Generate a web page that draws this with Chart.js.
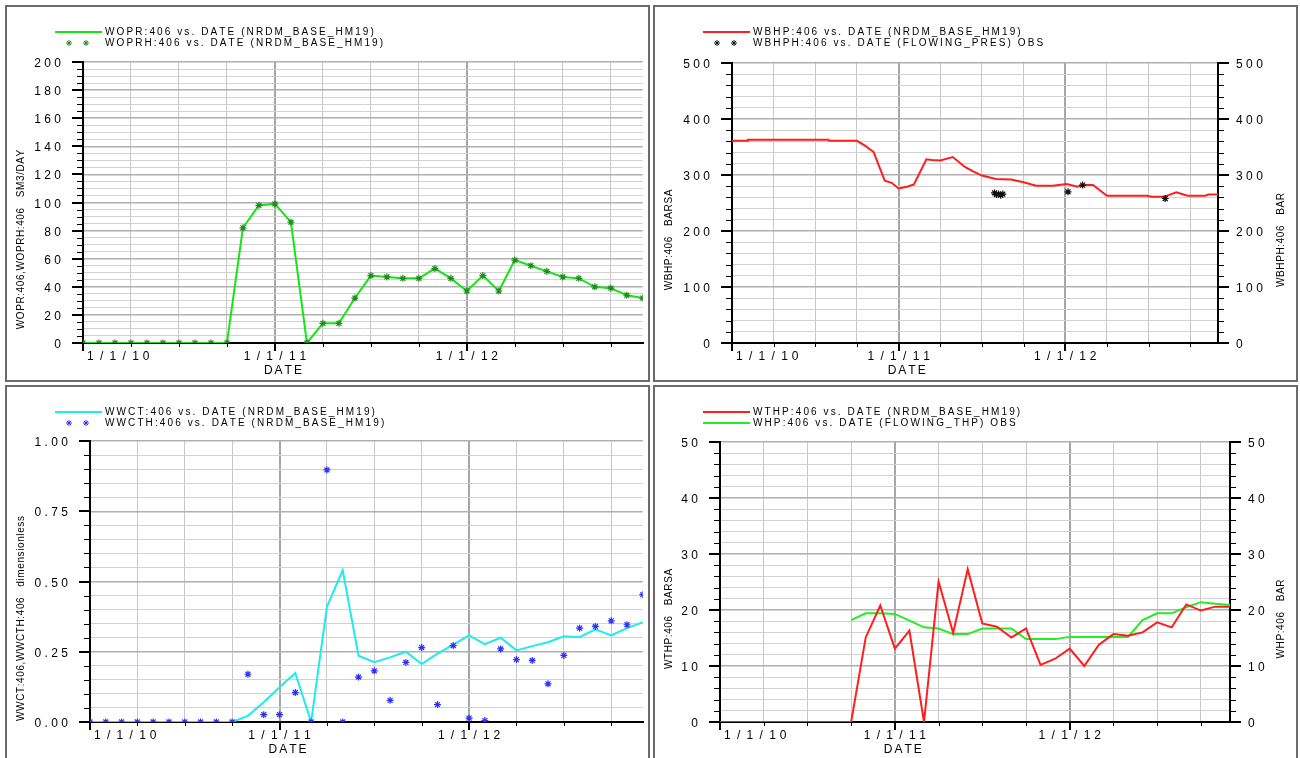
<!DOCTYPE html>
<html>
<head>
<meta charset="utf-8">
<title>Well 406 history match</title>
<script src="https://cdn.jsdelivr.net/npm/chart.js@4/dist/chart.umd.min.js"></script>
<style>
  html, body { margin: 0; padding: 0; background: #fff; }
  body { width: 1300px; height: 758px; overflow: hidden; position: relative; }
  .panel { position: absolute; width: 641px; height: 373px; border: 2px solid #6a6a6a; background: #fff; }
  .panel canvas { display: block; }
</style>
</head>
<body>
<div class="panel" style="left:5px;top:5px"><canvas id="wopr" width="641" height="373"></canvas></div>
<div class="panel" style="left:653px;top:5px"><canvas id="wbhp" width="641" height="373"></canvas></div>
<div class="panel" style="left:5px;top:385px"><canvas id="wwct" width="641" height="373"></canvas></div>
<div class="panel" style="left:653px;top:385px"><canvas id="wthp" width="641" height="373"></canvas></div>

<script>
// time axis: months counted from 1/1/10
const months = [0, 1, 2, 3, 4, 5, 6, 7, 8, 9, 10, 11, 12, 13, 14, 15, 16, 17,
  18, 19, 20, 21, 22, 23, 24, 25, 26, 27, 28, 29, 30, 31, 32, 33, 34, 35];
const xTickMonths = [0, 12, 24];
const xTickLabels = ['1/1/10', '1/1/11', '1/1/12'];

// oil rate, SM3/DAY
const woprValues = [0, 0, 0, 0, 0, 0, 0, 0, 0, 0, 82, 98, 99, 86, 0, 14, 14, 32,
  48, 47, 46, 46, 53, 46, 37, 48, 37, 59, 55, 51, 47, 46, 40, 39, 34, 32];
const woprhValues = [0, 0, 0, 0, 0, 0, 0, 0, 0, 0, 82, 98, 99, 86, 0, 14, 14, 32,
  48, 47, 46, 46, 53, 46, 37, 48, 37, 59, 55, 51, 47, 46, 40, 39, 34, 32];

// bottom hole pressure, BARSA
const wbhpMonths = [0, 1.1, 1.15, 6.95, 7, 9, 9.6, 10.2, 11, 11.5, 12, 12.6, 13.1,
  14, 14.4, 15, 15.9, 16.8, 17.4, 18, 19, 20.1, 21, 21.9, 23.1, 24.1, 24.9, 25.2,
  26, 27, 29.9, 30.2, 31.1, 32, 32.8, 34.1, 34.3, 35];
const wbhpValues = [361, 361, 363, 363, 361, 361, 352, 341, 290, 286, 276, 279, 283,
  328, 327, 326, 332, 314, 306, 299, 293, 292, 287, 281, 281, 284, 279, 282,
  282, 263, 263, 261, 261, 269, 263, 263, 265, 265];
const wbhphMonths = [18.9, 19.05, 19.2, 19.35, 19.5, 24.2, 25.25, 31.2];
const wbhphValues = [268, 265, 266, 264, 266, 270, 282, 258];

// water cut
const wwctValues = [0, 0, 0, 0, 0, 0, 0, 0, 0, 0, 0.022, 0.07, 0.124, 0.174, 0,
  0.41, 0.54, 0.236, 0.213, 0.23, 0.25, 0.206, 0.243, 0.275, 0.308, 0.277, 0.3,
  0.255, 0.27, 0.284, 0.305, 0.302, 0.33, 0.308, 0.334, 0.355];
const wwcthValues = [0, 0, 0, 0, 0, 0, 0, 0, 0, 0, 0.17, 0.026, 0.026, 0.105, 0,
  0.897, 0, 0.16, 0.182, 0.077, 0.212, 0.265, 0.062, 0.272, 0.014, 0.005, 0.26,
  0.222, 0.219, 0.136, 0.237, 0.334, 0.34, 0.36, 0.346, 0.453];

// tubing head pressure
const wthpValues = [0, 0, 0, 0, 0, 0, 0, 0, 0, 0, 15.1, 20.8, 13.1, 16.3, 0, 25.1,
  15.9, 27.3, 17.6, 17.0, 15.1, 16.7, 10.2, 11.3, 13.1, 10.0, 13.8, 15.7, 15.4,
  16.0, 17.8, 16.9, 21.0, 19.9, 20.6, 20.6];
const whpMonths = [9, 10, 11, 12, 13, 14, 15, 16, 17, 18, 19, 20, 21, 22, 23, 24,
  25, 26, 27, 28, 29, 30, 31, 32, 33, 34, 35];
const whpValues = [18.2, 19.4, 19.4, 19.3, 18.1, 16.9, 16.7, 15.7, 15.7, 16.7, 16.7,
  16.7, 14.8, 14.8, 14.8, 15.2, 15.2, 15.2, 15.2, 15.2, 18.2, 19.4, 19.4, 20.5,
  21.4, 21.1, 20.9];

const SANS = '"Liberation Sans", Arial, sans-serif';

function pts(xs, ys) {
  return xs.map((x, i) => ({ x: x, y: ys[i] }));
}

function near(v, step) {
  return Math.abs(v / step - Math.round(v / step)) < 1e-6;
}

// letter-spaced text, drawn glyph by glyph; slashes get extra room
function advance(ctx, ch, sp, slash) {
  return ctx.measureText(ch).width + sp + (ch === '/' ? 2 * slash : 0);
}
function textWidth(ctx, s, sp, slash) {
  let w = 0;
  for (const ch of s) w += advance(ctx, ch, sp, slash || 0);
  return w - sp;
}
function drawSpaced(ctx, s, x, y, align, sp, slash) {
  slash = slash || 0;
  const w = textWidth(ctx, s, sp, slash);
  let cx = align === 'center' ? x - w / 2 : align === 'right' ? x - w : x;
  ctx.textAlign = 'left';
  for (const ch of s) {
    ctx.fillText(ch, cx + (ch === '/' ? slash : 0), y);
    cx += advance(ctx, ch, sp, slash);
  }
}

function drawStar(ctx, x, y, r) {
  ctx.beginPath();
  for (let k = 0; k < 4; k++) {
    const a = k * Math.PI / 4;
    ctx.moveTo(x - r * Math.cos(a), y - r * Math.sin(a));
    ctx.lineTo(x + r * Math.cos(a), y + r * Math.sin(a));
  }
  ctx.stroke();
}

// axis labels, tick marks, titles and legend of one plot panel
const panelText = {
  id: 'panelText',
  afterDraw(chart, args, o) {
    const { ctx, chartArea: a, scales } = chart;
    const xs = scales.x;
    ctx.save();
    ctx.fillStyle = '#000';
    ctx.strokeStyle = '#000';
    ctx.textBaseline = 'middle';
    ctx.font = '12px ' + SANS;

    const axes = [[scales.y, a.left, -1]];
    if (scales.y1) axes.push([scales.y1, a.right, 1]);
    axes.forEach(([sc, ax, dir]) => {
      sc.ticks.forEach(t => {
        const py = Math.round(sc.getPixelForValue(t.value));
        const major = near(t.value, o.yMajor);
        const off = major ? 0 : 0.5;
        ctx.lineWidth = major ? 2 : 1;
        ctx.beginPath();
        ctx.moveTo(ax, py + off);
        ctx.lineTo(ax + dir * (major ? 11 : 6), py + off);
        ctx.stroke();
        if (major) {
          const s = t.value.toFixed(o.yDecimals);
          if (dir < 0) drawSpaced(ctx, s, ax - 22, py + 2, 'right', 3.4);
          else drawSpaced(ctx, s, ax + 18, py + 2, 'left', 3.4);
        }
      });
    });

    xs.ticks.forEach(t => {
      const year = near(t.value, 12);
      const px = Math.round(xs.getPixelForValue(t.value)) + (year ? 0 : 0.5);
      ctx.lineWidth = year ? 2 : 1;
      ctx.beginPath();
      ctx.moveTo(px, a.bottom);
      ctx.lineTo(px, a.bottom + (year ? 8 : 4));
      ctx.stroke();
    });

    xTickMonths.forEach((m, i) => {
      const px = xs.getPixelForValue(m);
      const w = textWidth(ctx, xTickLabels[i], 3.8, 2.5);
      let left = px - w / 2;
      if (left < a.left) left = a.left + 4;
      drawSpaced(ctx, xTickLabels[i], left, a.bottom + 14, 'left', 3.8, 2.5);
    });
    drawSpaced(ctx, 'DATE', xs.getPixelForValue(12) + 8, a.bottom + 28, 'center', 2);

    // rotated axis titles
    ctx.font = '10px ' + SANS;
    const cy = (a.top + a.bottom) / 2 + 37;
    const titles = [[o.leftTitle, 14]];
    if (o.rightTitle) titles.push([o.rightTitle, chart.width - 15]);
    titles.forEach(([s, tx]) => {
      ctx.save();
      ctx.translate(tx, cy);
      ctx.rotate(-Math.PI / 2);
      drawSpaced(ctx, s, 0, 0, 'center', 0.6);
      ctx.restore();
    });

    // legend
    ctx.font = '10px ' + SANS;
    chart.data.datasets.forEach((ds, i) => {
      const ly = 25 + 11 * i;
      if (ds.showLine === false) {
        ctx.strokeStyle = ds.pointBorderColor;
        ctx.lineWidth = 1;
        drawStar(ctx, 62, ly, 3);
        drawStar(ctx, 79, ly, 3);
      } else {
        ctx.strokeStyle = ds.borderColor;
        ctx.lineWidth = 2;
        ctx.beginPath();
        ctx.moveTo(48, ly);
        ctx.lineTo(95, ly);
        ctx.stroke();
      }
      ctx.fillStyle = '#000';
      drawSpaced(ctx, ds.label, 98, ly, 'left', 2.1);
    });
    ctx.restore();
  }
};

function lineSet(label, data, color) {
  return {
    label: label, data: data, borderColor: color, borderWidth: 2,
    pointRadius: 0, tension: 0, fill: false, order: 1
  };
}
function starSet(label, data, color) {
  return {
    label: label, data: data, showLine: false, pointStyle: 'star',
    pointRadius: 3.5, pointBorderColor: color, pointBackgroundColor: color,
    pointBorderWidth: 1.2, order: 0
  };
}

function buildChart(id, o) {
  const axisBorder = { display: true, color: '#000', width: 2 };
  const scales = {
    x: {
      type: 'linear', min: 0, max: 35,
      ticks: { stepSize: 3, display: false, autoSkip: false, includeBounds: false },
      grid: {
        drawTicks: false,
        color: c => near(c.tick.value, 12) ? '#a6a6a6' : '#c8c8c8',
        lineWidth: c => near(c.tick.value, 12) ? 2 : 1
      },
      border: axisBorder
    },
    y: {
      type: 'linear', min: 0, max: o.yMax,
      ticks: { stepSize: o.yMinor, display: false, autoSkip: false },
      grid: {
        drawTicks: false,
        color: c => near(c.tick.value, o.yMajor) ? '#b0b0b0' : '#d2d2d2',
        lineWidth: c => near(c.tick.value, o.yMajor) ? 1.5 : 1
      },
      border: axisBorder
    }
  };
  if (o.rightTitle) {
    scales.y1 = {
      type: 'linear', position: 'right', min: 0, max: o.yMax,
      ticks: { stepSize: o.yMinor, display: false, autoSkip: false },
      grid: { drawTicks: false, color: 'rgba(0,0,0,0)' },
      border: axisBorder
    };
  }
  return new Chart(document.getElementById(id), {
    type: 'line',
    data: { datasets: o.datasets },
    plugins: [panelText],
    options: {
      responsive: false,
      animation: false,
      devicePixelRatio: 1,
      layout: { padding: o.padding },
      scales: scales,
      plugins: {
        legend: { display: false },
        title: { display: false },
        tooltip: { enabled: false },
        panelText: o
      }
    }
  });
}

buildChart('wopr', {
  yMax: 200, yMinor: 5, yMajor: 20, yDecimals: 0,
  leftTitle: 'WOPR:406,WOPRH:406   SM3/DAY',
  padding: { left: 76, right: 2, top: 55, bottom: 37 },
  datasets: [
    lineSet('WOPR:406 vs. DATE (NRDM_BASE_HM19)', pts(months, woprValues), '#14e614'),
    starSet('WOPRH:406 vs. DATE (NRDM_BASE_HM19)', pts(months, woprhValues), '#1f8a1f')
  ]
});

buildChart('wbhp', {
  yMax: 500, yMinor: 20, yMajor: 100, yDecimals: 0,
  leftTitle: 'WBHP:406   BARSA',
  rightTitle: 'WBHPH:406   BAR',
  padding: { left: 77, right: 78, top: 56, bottom: 37 },
  datasets: [
    lineSet('WBHP:406 vs. DATE (NRDM_BASE_HM19)', pts(wbhpMonths, wbhpValues), '#ff1e1e'),
    starSet('WBHPH:406 vs. DATE (FLOWING_PRES) OBS', pts(wbhphMonths, wbhphValues), '#111111')
  ]
});

buildChart('wwct', {
  yMax: 1, yMinor: 0.05, yMajor: 0.25, yDecimals: 2,
  leftTitle: 'WWCT:406,WWCTH:406   dimensionless',
  padding: { left: 83, right: 3, top: 54, bottom: 38 },
  datasets: [
    lineSet('WWCT:406 vs. DATE (NRDM_BASE_HM19)', pts(months, wwctValues), '#1eecec'),
    starSet('WWCTH:406 vs. DATE (NRDM_BASE_HM19)', pts(months, wwcthValues), '#2f2fff')
  ]
});

buildChart('wthp', {
  yMax: 50, yMinor: 2, yMajor: 10, yDecimals: 0,
  leftTitle: 'WTHP:406   BARSA',
  rightTitle: 'WHP:406   BAR',
  padding: { left: 65, right: 66, top: 55, bottom: 38 },
  datasets: [
    lineSet('WTHP:406 vs. DATE (NRDM_BASE_HM19)', pts(months, wthpValues), '#ff1e1e'),
    lineSet('WHP:406 vs. DATE (FLOWING_THP) OBS', pts(whpMonths, whpValues), '#22ee22')
  ]
});
</script>
</body>
</html>
